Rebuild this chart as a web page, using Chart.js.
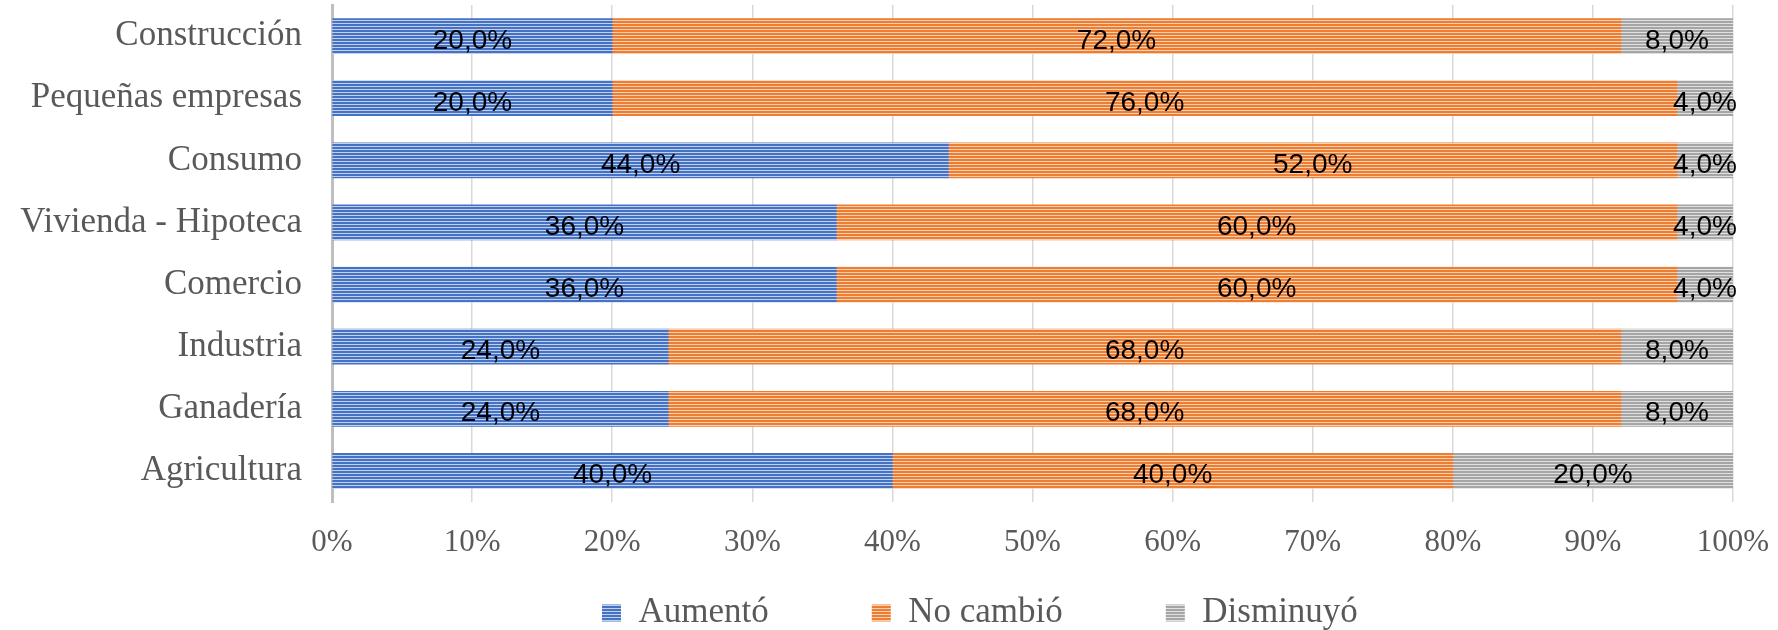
<!DOCTYPE html>
<html>
<head>
<meta charset="utf-8">
<script src="https://cdn.jsdelivr.net/npm/chart.js@4/dist/chart.umd.min.js"></script>
<style>
  html,body{margin:0;padding:0;background:#fff;}
  #wrap{width:1778px;height:630px;position:relative;}
</style>
</head>
<body>
<div id="wrap"><canvas id="c" width="1778" height="630"></canvas></div>
<script>
const categories = ["Construcción","Pequeñas empresas","Consumo","Vivienda - Hipoteca","Comercio","Industria","Ganadería","Agricultura"];
const seriesNames = ["Aumentó","No cambió","Disminuyó"];
const aumento = [20,20,44,36,36,24,24,40];
const noCambio = [72,76,52,60,60,68,68,40];
const disminuyo = [8,4,4,4,4,8,8,20];
const xTicks = [0,10,20,30,40,50,60,70,80,90,100];

function stripe(color, light){
  const p = document.createElement('canvas');
  p.width = 4; p.height = 3;
  const g = p.getContext('2d');
  g.fillStyle = color; g.fillRect(0,0,4,2);
  g.fillStyle = light; g.fillRect(0,2,4,1);
  return g.createPattern(p,'repeat');
}
const ctx = document.getElementById('c').getContext('2d');
const fills = [stripe('#4472C4','#c3d0ec'), stripe('#ED7D31','#f9d0b3'), stripe('#A5A5A5','#e0e0e0')];

const LEGEND_PAD = 103;
const labelPlugin = {
  id:'segLabels',
  beforeLayout(chart){
    const lg = chart.legend;
    if (lg && !lg._wrapped){
      lg._wrapped = true;
      const origFit = lg.fit.bind(lg);
      lg.fit = function(){ origFit(); this.height = 60; };
      const origDraw = lg.draw.bind(lg);
      lg.draw = function(){
        const saved = {left:this.left, right:this.right, top:this.top, bottom:this.bottom, width:this.width, height:this.height};
        const startX = (this.left + LEGEND_PAD + this.right - this.lineWidths[0]) / 2;
        const dx = 602 - startX;
        this.left += dx; this.right += dx;
        this.top = 595.5 - LEGEND_PAD; this.height = 200; this.bottom = this.top + 200;
        origDraw();
        Object.assign(this, saved);
      };
    }
  },
  afterDatasetsDraw(chart){
    const c = chart.ctx;
    c.save();
    c.font = '28px "Liberation Sans", Arial, sans-serif';
    c.fillStyle = '#000';
    c.textAlign = 'center';
    c.textBaseline = 'alphabetic';
    chart.data.datasets.forEach((ds,i)=>{
      const meta = chart.getDatasetMeta(i);
      meta.data.forEach((bar,j)=>{
        const v = ds.data[j];
        const x = (bar.x + bar.base)/2;
        c.fillText(v.toFixed(1).replace('.',',') + '%', x, bar.y + 12.5);
      });
    });
    c.restore();
  }
};

const serif = '"Liberation Serif", "Times New Roman", serif';
new Chart(ctx, {
  type:'bar',
  data:{
    labels: categories,
    datasets: [aumento, noCambio, disminuyo].map((d,i)=>({
      label: seriesNames[i],
      data: d,
      backgroundColor: fills[i],
      borderWidth: 0,
      barThickness: 35
    }))
  },
  options:{
    indexAxis:'y',
    responsive:false,
    animation:false,
    layout:{padding:{top:5,right:45,left:0,bottom:0}},
    scales:{
      x:{
        stacked:true, min:0, max:100,
        afterBuildTicks(s){ s.ticks = xTicks.map(v=>({value:v})); },
        afterFit(s){ s.height = 68; s.paddingLeft = 0; s.paddingRight = 0; },
        ticks:{ callback:v=>v+'%', color:'#595959', font:{family:serif,size:31}, padding:22, maxRotation:0 },
        grid:{ color:'#d9d9d9', lineWidth:1.5, drawTicks:false },
        border:{ display:false }
      },
      y:{
        stacked:true,
        afterFit(s){ s.width = 332; s.paddingTop = 0; s.paddingBottom = 0; },
        ticks:{ color:'#595959', font:{family:serif,size:35}, padding:30 },
        grid:{ display:false, drawTicks:false },
        border:{ color:'#bfbfbf', width:3 }
      }
    },
    plugins:{
      legend:{
        position:'bottom',
        labels:{ color:'#595959', font:{family:serif,size:35}, boxWidth:19, boxHeight:17, padding:LEGEND_PAD }
      },
      tooltip:{enabled:false}
    }
  },
  plugins:[labelPlugin]
});
</script>
</body>
</html>
